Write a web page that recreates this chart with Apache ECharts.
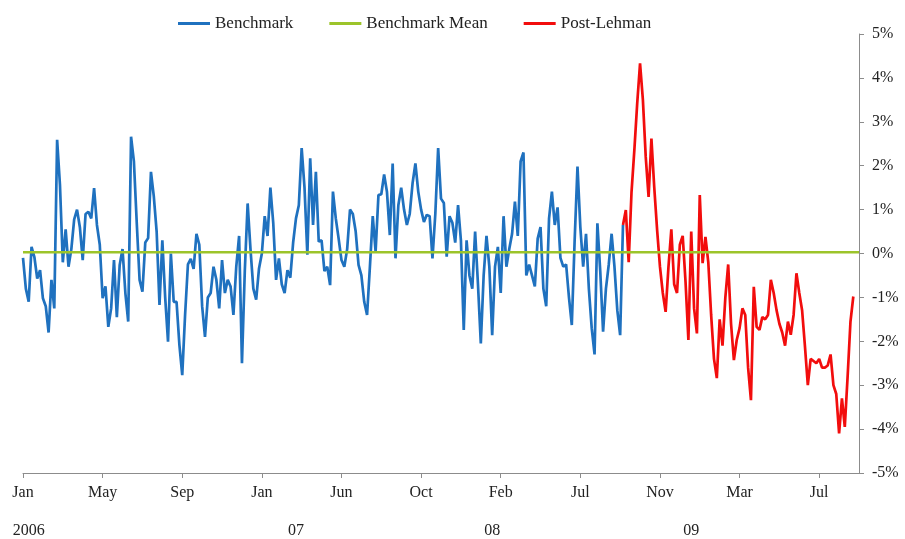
<!DOCTYPE html>
<html>
<head>
<meta charset="utf-8">
<script src="https://cdn.jsdelivr.net/npm/echarts@6/dist/echarts.min.js"></script>
<style>
  html, body { margin: 0; padding: 0; background: #fff; }
  #chart { width: 905px; height: 539px; }
</style>
</head>
<body>
<div id="chart"></div>
<script>
// business-day series, Jan 2006 .. Aug 2009 (one point per ~3 trading days)
const N = 295;
const monthLabels = ['Jan', 'May', 'Sep', 'Jan', 'Jun', 'Oct', 'Feb', 'Jul', 'Nov', 'Mar', 'Jul'];
const monthStep = 28;
const yearLabels = ['2006', '07', '08', '09'];
const yearIdx = [2, 96, 165, 235];

// benchmark, % (index 0..211)
const benchmark = [
  -0.1, -0.8, -1.1, 0.15, -0.08, -0.57, -0.38, -1.02, -1.2, -1.8,
  -0.6, -1.25, 2.59, 1.56, -0.2, 0.55, -0.3, 0.1, 0.78, 1.0,
  0.6, -0.15, 0.9, 0.95, 0.8, 1.49, 0.65, 0.2, -1.02, -0.75,
  -1.67, -1.25, -0.15, -1.45, -0.26, 0.1, -0.9, -1.55, 2.66, 2.1,
  0.7, -0.6, -0.87, 0.25, 0.35, 1.86, 1.3, 0.5, -1.17, 0.3,
  -1.0, -2.01, 0.0, -1.1, -1.1, -2.08, -2.77, -1.4, -0.25, -0.12,
  -0.35, 0.45, 0.2, -1.2, -1.9, -1.0, -0.9, -0.3, -0.6, -1.25,
  -0.15, -0.9, -0.6, -0.75, -1.4, -0.3, 0.4, -2.5, -0.4, 1.14,
  0.1, -0.8, -1.05, -0.34, 0.0, 0.85, 0.4, 1.5, 0.7, -0.6,
  -0.11, -0.7, -0.9, -0.38, -0.55, 0.25, 0.8, 1.1, 2.4, 1.5,
  -0.03, 2.17, 0.65, 1.86, 0.27, 0.3, -0.4, -0.3, -0.72, 1.41,
  0.8, 0.34, -0.15, -0.3, 0.1, 1.0, 0.9, 0.5, -0.26, -0.5,
  -1.1, -1.4, -0.3, 0.85, 0.04, 1.33, 1.35, 1.8, 1.4, 0.42,
  2.05, -0.11, 1.1, 1.5, 1.0, 0.65, 0.9, 1.6, 2.05, 1.41,
  1.0, 0.72, 0.88, 0.85, -0.11, 0.9, 2.4, 1.25, 1.15, -0.07,
  0.85, 0.7, 0.25, 1.1, 0.3, -1.74, 0.3, -0.5, -0.8, 0.5,
  -0.7, -2.05, -0.5, 0.4, -0.3, -1.86, -0.3, 0.15, -0.9, 0.85,
  -0.3, 0.1, 0.45, 1.18, 0.4, 2.1, 2.3, -0.5, -0.25, -0.5,
  -0.75, 0.34, 0.6, -0.8, -1.2, 0.8, 1.41, 0.65, 1.05, -0.1,
  -0.3, -0.25, -1.0, -1.63, 0.3, 1.98, 0.6, -0.3, 0.45, -0.8,
  -1.7, -2.3, 0.69, -0.4, -1.78, -0.8, -0.25, 0.45, -0.3, -1.29,
  -1.86, 0.65
];

// post-Lehman, % (starts at index 211)
const postStart = 211;
const postLehman = [
  0.65, 0.99, -0.2, 1.4, 2.36, 3.42, 4.33, 3.5, 2.2, 1.29,
  2.62, 1.5, 0.54, -0.3, -0.9, -1.33, -0.3, 0.55, -0.7, -0.9,
  0.2, 0.4, -0.65, -1.97, 0.5, -1.25, -1.82, 1.33, -0.22, 0.38,
  -0.2, -1.4, -2.4, -2.84, -1.5, -2.1, -1.0, -0.25, -1.6, -2.43,
  -1.97, -1.7, -1.25, -1.4, -2.6, -3.34, -0.76, -1.67, -1.74, -1.45,
  -1.5, -1.4, -0.6, -0.9, -1.29, -1.6, -1.8, -2.1, -1.55, -1.85,
  -1.4, -0.45, -0.9, -1.3, -2.12, -3.0, -2.4, -2.45, -2.5, -2.4,
  -2.6, -2.6, -2.55, -2.3, -3.0, -3.2, -4.1, -3.3, -3.95, -2.8,
  -1.55, -0.98
];

const benchmarkMean = 0.03;

const categories = Array.from({ length: N }, (_, i) => String(i));
const font = "'Liberation Serif', 'Times New Roman', serif";

const myChart = echarts.init(document.getElementById('chart'));
myChart.setOption({
  animation: false,
  backgroundColor: '#fff',
  legend: {
    left: 173,
    top: 10,
    itemWidth: 32,
    itemHeight: 3,
    itemGap: 36,
    icon: 'rect',
    textStyle: { fontFamily: font, fontSize: 17, color: '#222' },
    data: ['Benchmark', 'Benchmark Mean', 'Post-Lehman'],
  },
  grid: { left: 23, right: 46, top: 34, bottom: 66 },
  xAxis: [
    {
      type: 'category',
      data: categories,
      boundaryGap: false,
      axisLine: { onZero: false, lineStyle: { color: '#8c8c8c', width: 1 } },
      axisTick: { show: true, interval: monthStep - 1, length: 5, lineStyle: { color: '#8c8c8c' } },
      axisLabel: {
        interval: monthStep - 1,
        margin: 12,
        fontFamily: font,
        fontSize: 16,
        color: '#222',
        formatter: (v, i) => monthLabels[i / monthStep] || '',
      },
      splitLine: { show: false },
    },
    {
      type: 'category',
      data: categories,
      position: 'bottom',
      offset: 38,
      boundaryGap: false,
      axisLine: { show: false, onZero: false },
      axisTick: { show: false },
      axisLabel: {
        interval: (i) => yearIdx.includes(i),
        margin: 12,
        fontFamily: font,
        fontSize: 16,
        color: '#222',
        formatter: (v, i) => yearLabels[yearIdx.indexOf(i)] || '',
      },
      splitLine: { show: false },
    },
  ],
  yAxis: {
    type: 'value',
    position: 'right',
    min: -5,
    max: 5,
    interval: 1,
    axisLine: { show: true, onZero: false, lineStyle: { color: '#8c8c8c', width: 1 } },
    axisTick: { show: true, length: 5, lineStyle: { color: '#8c8c8c' } },
    axisLabel: {
      margin: 13,
      fontFamily: font,
      fontSize: 16,
      color: '#222',
      formatter: '{value}%',
    },
    splitLine: { show: false },
  },
  series: [
    {
      name: 'Benchmark',
      type: 'line',
      data: benchmark,
      showSymbol: false,
      color: '#1F71BF',
      lineStyle: { width: 2.7 },
    },
    {
      name: 'Post-Lehman',
      type: 'line',
      data: new Array(postStart).fill('-').concat(postLehman),
      showSymbol: false,
      color: '#F20D0D',
      lineStyle: { width: 2.7 },
    },
    {
      name: 'Benchmark Mean',
      type: 'line',
      data: [[0, benchmarkMean], [N - 1, benchmarkMean]],
      showSymbol: false,
      color: '#9CC42A',
      lineStyle: { width: 2.5 },
    },
  ],
});
</script>
</body>
</html>
